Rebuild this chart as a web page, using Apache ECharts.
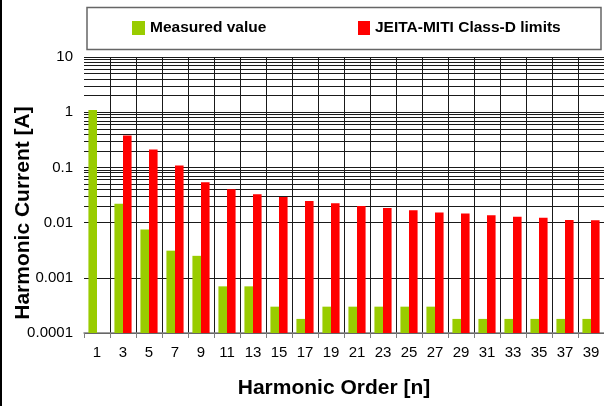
<!DOCTYPE html>
<html>
<head>
<meta charset="utf-8">
<script src="https://cdn.jsdelivr.net/npm/echarts@6/dist/echarts.min.js"></script>
<style>
  html, body { margin: 0; padding: 0; background: #fff; }
  #chart { width: 604px; height: 406px; }
</style>
</head>
<body>
<div id="chart"></div>
<script>
// Harmonic orders on the x axis (odd harmonics 1..39)
const harmonicOrders = ['1', '3', '5', '7', '9', '11', '13', '15', '17', '19',
                        '21', '23', '25', '27', '29', '31', '33', '35', '37', '39'];

// Measured harmonic current [A]
const measuredValues = [1.1, 0.022, 0.0075, 0.0031, 0.0025, 0.0007, 0.0007, 0.0003, 0.00018, 0.0003,
                        0.0003, 0.0003, 0.0003, 0.0003, 0.00018, 0.00018, 0.00018, 0.00018, 0.00018, 0.00018];

// JEITA-MITI Class-D limit per harmonic [A] (no limit on the fundamental)
const limitValues = [null, 0.38, 0.21, 0.108, 0.054, 0.040, 0.0326, 0.029, 0.0245, 0.0223,
                     0.0200, 0.0183, 0.0168, 0.0152, 0.0146, 0.0136, 0.0127, 0.0123, 0.0112, 0.011];

// Decade labels on the logarithmic y axis, lowest first
const yTickLabels = ['0.0001', '0.001', '0.01', '0.1', '1', '10'];

const seriesNames = ['Measured value', 'JEITA-MITI Class-D limits'];
const xAxisTitle = 'Harmonic Order [n]';
const yAxisTitle = 'Harmonic Current [A]';

const FONT = '"Liberation Sans", Arial, sans-serif';
const GRID_COLOR = '#1a1a1a';

// Intermediate log gridlines at 2..9 x 10^k inside each decade
const minorGridValues = [];
for (let e = -4; e <= 0; e++) {
  for (let m = 2; m <= 9; m++) {
    minorGridValues.push(Number((m * Math.pow(10, e)).toPrecision(3)));
  }
}

const chart = echarts.init(document.getElementById('chart'), null, { renderer: 'canvas' });

const legendText = { fontFamily: FONT, fontSize: 15.5, fontWeight: 'bold', color: '#000' };

chart.setOption({
  animation: false,
  backgroundColor: '#fff',
  textStyle: { fontFamily: FONT },
  grid: { left: 84, right: 0, top: 57, bottom: 73, containLabel: false },
  legend: [
    {
      data: [seriesNames[0]], left: 132, top: 20, padding: 0,
      itemWidth: 13, itemHeight: 14, icon: 'rect', textStyle: legendText
    },
    {
      data: [seriesNames[1]], left: 358, top: 20, padding: 0,
      itemWidth: 12, itemHeight: 14, icon: 'rect', textStyle: legendText
    }
  ],
  xAxis: {
    type: 'category',
    data: harmonicOrders,
    boundaryGap: true,
    axisLine: { show: true, lineStyle: { color: '#808080', width: 1.5 } },
    axisTick: { show: true, length: 5, lineStyle: { color: '#808080' } },
    axisLabel: { interval: 0, fontSize: 15, color: '#000', margin: 12, fontFamily: FONT },
    splitLine: {
      show: true,
      // no vertical rule on the plot's left edge
      interval: function (index) { return index > 0; },
      lineStyle: { color: GRID_COLOR, width: 1 }
    }
  },
  yAxis: {
    type: 'log',
    logBase: 10,
    min: 0.0001,
    max: 10,
    startValue: 0.0001,
    splitNumber: 5,
    axisLine: { show: false },
    axisTick: { show: false },
    axisLabel: {
      fontSize: 15, color: '#000', margin: 11, fontFamily: FONT,
      formatter: function (v) {
        const e = Math.round(Math.log10(v));
        return yTickLabels[e + 4];
      }
    },
    splitLine: { show: true, lineStyle: { color: GRID_COLOR, width: 1 } }
  },
  series: [
    {
      name: seriesNames[0],
      type: 'bar',
      data: measuredValues,
      barWidth: '33%',
      barGap: '0%',
      itemStyle: { color: '#99CC00' },
      z: 3
    },
    {
      name: seriesNames[1],
      type: 'bar',
      data: limitValues,
      barWidth: '33%',
      barGap: '0%',
      itemStyle: { color: '#FF0000' },
      z: 3
    },
    {
      name: 'minor-grid',
      type: 'line',
      data: [],
      silent: true,
      z: 1,
      markLine: {
        silent: true,
        z: 1,
        symbol: ['none', 'none'],
        label: { show: false },
        lineStyle: { color: GRID_COLOR, width: 1, type: 'solid' },
        emphasis: { disabled: true },
        data: minorGridValues.map(v => ({ yAxis: v }))
      }
    }
  ],
  graphic: [
    {
      type: 'rect', z: 0,
      shape: { x: 87, y: 7.5, width: 514, height: 42 },
      style: { fill: '#fff', stroke: '#666', lineWidth: 1.5 }
    },
    {
      type: 'rect', z: 0,
      shape: { x: 0, y: 0, width: 2, height: 406 },
      style: { fill: '#000' }
    },
    {
      type: 'text', x: 334, y: 388,
      style: { text: xAxisTitle, font: 'bold 21px ' + FONT, fill: '#000', align: 'center', verticalAlign: 'middle' }
    },
    {
      type: 'text', x: 23, y: 213, rotation: Math.PI / 2,
      style: { text: yAxisTitle, font: 'bold 21px ' + FONT, fill: '#000', align: 'center', verticalAlign: 'middle' }
    }
  ]
});
</script>
</body>
</html>
